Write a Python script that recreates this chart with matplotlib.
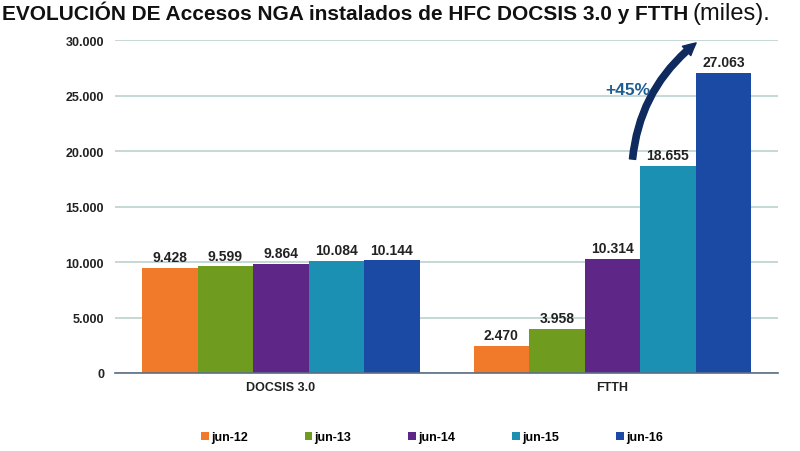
import matplotlib
matplotlib.use("Agg")
import matplotlib.pyplot as plt
import numpy as np
from matplotlib.patches import FancyArrowPatch

# ── Data ──
categories = ["DOCSIS 3.0", "FTTH"]
periods = ["jun-12", "jun-13", "jun-14", "jun-15", "jun-16"]
docsis = [9428, 9599, 9864, 10084, 10144]
ftth = [2470, 3958, 10314, 18655, 27063]
growth_label = "+45%"

COLORS = ["#F07A2A", "#6F9C1F", "#5E2686", "#1B90B2", "#1A4AA3"]

plt.rcParams["font.family"] = ["Liberation Sans", "DejaVu Sans"]

fig = plt.figure(figsize=(8, 4.52), dpi=100)
ax = fig.add_axes([0.144, 0.1726, 0.8285, 0.7364])

values = np.array([docsis, ftth])  # shape (cat, period)
x = np.arange(len(categories))
width = 0.1675
offsets = (np.arange(len(periods)) - 2) * width

for i, p in enumerate(periods):
    bars = ax.bar(x + offsets[i], values[:, i], width, color=COLORS[i],
                  label=p, zorder=3)
    for b, v in zip(bars, values[:, i]):
        ax.text(b.get_x() + b.get_width() / 2, v + 350,
                f"{v:,}".replace(",", "."), ha="center", va="bottom",
                fontsize=10, fontweight="bold", color="#222222")

ax.set_xlim(-0.5, 1.5)
ax.set_ylim(0, 30000)
ax.set_yticks(np.arange(0, 30001, 5000))
ax.set_yticklabels([f"{int(t):,}".replace(",", ".") for t in ax.get_yticks()])
ax.set_xticks(x)
ax.set_xticklabels(categories)
ax.tick_params(axis="both", length=0, labelsize=9, colors="#222222", pad=8)
ax.tick_params(axis="x", pad=6)
for lbl in ax.get_xticklabels() + ax.get_yticklabels():
    lbl.set_fontweight("bold")

ax.grid(True, axis="y", color="#BCD2D0", linewidth=1.2, zorder=0)
for s in ["left", "right", "top"]:
    ax.spines[s].set_visible(False)
ax.spines["bottom"].set_color("#5A6E84")
ax.spines["bottom"].set_linewidth(1.2)
ax.spines["bottom"].set_zorder(4)

# ── Growth arrow from jun-15 to jun-16 (FTTH) ──
x15 = x[1] + offsets[3]
x16 = x[1] + offsets[4]
start = (x15 - width * 0.64, ftth[3] * 1.02)
end = (x16 - width * 0.45, ftth[4] * 1.105)
arrow = FancyArrowPatch(start, end, connectionstyle="arc3,rad=-0.22",
                        arrowstyle="simple,head_width=9,head_length=9,tail_width=4.5",
                        color="#0E2A5E", zorder=5, clip_on=False)
ax.add_patch(arrow)
ax.text(x15 - width * 0.72, ftth[4] * 0.945, growth_label, ha="center", va="center",
        fontsize=12.5, fontweight="bold", color="#1F5E92", zorder=6)

# ── Title ──
t1 = fig.text(0.003, 0.972, "EVOLUCIÓN DE Accesos NGA instalados de HFC DOCSIS 3.0 y FTTH",
              fontsize=15, fontweight="bold", color="#111111", va="center", ha="left")
fig.canvas.draw()
bb = t1.get_window_extent()
fig.text((bb.x1 + 4) / fig.bbox.width, 0.970, "(miles).", fontsize=17,
         color="#111111", va="center", ha="left")

# ── Legend ──
fig.legend(loc="center", bbox_to_anchor=(0.54, 0.031), ncol=5, frameon=False,
           handlelength=0.6, handleheight=0.6, handletextpad=0.2,
           columnspacing=4.55, prop={"size": 9, "weight": "bold"})

fig.savefig("out.png", dpi=100, facecolor="white")
